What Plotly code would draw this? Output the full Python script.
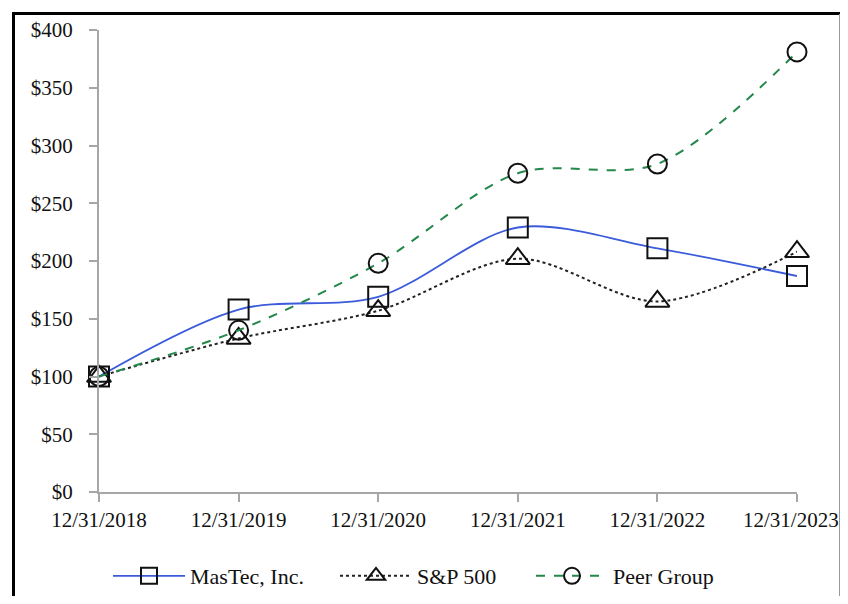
import plotly.graph_objects as go

dates = ["12/31/2018", "12/31/2019", "12/31/2020", "12/31/2021", "12/31/2022", "12/31/2023"]
mastec = [100, 158, 169, 229, 211, 187]
sp500 = [100, 133, 157, 202, 165, 208]
peer = [100, 140, 198, 276, 284, 381]
y_ticks = [0, 50, 100, 150, 200, 250, 300, 350, 400]
y_labels = ["$" + str(v) for v in y_ticks]

FONT = "Liberation Serif"

# page has an 8px body margin; figure coordinates = page coordinates - 8
OFF = 8
W, H = 832, 588
L = 99 - OFF
T = 30 - OFF
R = W - (797 - OFF)
B = H - (492 - OFF)
pw, ph = W - L - R, H - T - B

def px_x(p):
    return (p - OFF - L) / pw

def px_y(p):
    return (H - B - (p - OFF)) / ph

fig = go.Figure()
fig.add_trace(go.Scatter(
    x=dates, y=mastec, name="MasTec, Inc.", mode="lines+markers", legend="legend",
    line=dict(color="#3B5BDB", width=1.8, shape="spline", smoothing=0.9),
    marker=dict(symbol="square-open", size=20, color="#111111", line=dict(width=2)),
))
fig.add_trace(go.Scatter(
    x=dates, y=sp500, name="S&P 500", mode="lines+markers", legend="legend2",
    line=dict(color="#222222", width=2, dash="dot", shape="spline", smoothing=0.9),
    marker=dict(symbol="triangle-up-open", size=21, color="#111111", line=dict(width=2)),
))
fig.add_trace(go.Scatter(
    x=dates, y=peer, name="Peer Group", mode="lines+markers", legend="legend3",
    line=dict(color="#23884A", width=2, dash="dash", shape="spline", smoothing=0.9),
    marker=dict(symbol="circle-open", size=19, color="#111111", line=dict(width=2)),
))

def leg(xpix):
    return dict(orientation="h", x=px_x(xpix), y=px_y(576), xanchor="left", yanchor="middle",
                itemwidth=72, font=dict(family=FONT, size=22), bgcolor="rgba(0,0,0,0)",
                borderwidth=0)

# last tick label drawn as an annotation so it stays inside the visible page
tick_text = dates[:-1] + [""]

fig.update_layout(
    width=W, height=H,
    margin=dict(l=L, r=R, t=T, b=B, autoexpand=False),
    paper_bgcolor="white", plot_bgcolor="white",
    font=dict(family=FONT, size=21, color="#111111"),
    showlegend=True,
    legend=leg(108),
    legend2=leg(335),
    legend3=leg(531),
    xaxis=dict(type="category", range=[0, 5], showgrid=False, showline=True, automargin=False,
               tickmode="array", tickvals=dates, ticktext=tick_text,
               linecolor="#a6a6a6", linewidth=2, ticks="outside", ticklen=8,
               tickcolor="#a6a6a6", tickwidth=2, zeroline=False,
               tickfont=dict(family=FONT, size=21)),
    yaxis=dict(range=[0, 400], tickvals=y_ticks, ticktext=y_labels, showgrid=False, automargin=False,
               showline=True, linecolor="#a6a6a6", linewidth=2, ticks="outside",
               ticklen=8, tickcolor="#a6a6a6", tickwidth=2, zeroline=False,
               ticklabelstandoff=12, tickfont=dict(family=FONT, size=21)),
    annotations=[
        dict(text=dates[-1], xref="paper", yref="paper", x=px_x(840), y=px_y(519.5),
             xanchor="right", yanchor="middle", showarrow=False, borderpad=0,
             font=dict(family=FONT, size=21, color="#111111")),
    ],
    shapes=[
        dict(type="line", xref="paper", yref="paper", x0=px_x(12), x1=px_x(850),
             y0=px_y(13.5), y1=px_y(13.5), line=dict(color="black", width=3)),
        dict(type="line", xref="paper", yref="paper", x0=px_x(13.5), x1=px_x(13.5),
             y0=px_y(12), y1=px_y(610), line=dict(color="black", width=3)),
        dict(type="line", xref="paper", yref="paper", x0=px_x(839.5), x1=px_x(839.5),
             y0=px_y(14), y1=px_y(610), line=dict(color="#999999", width=1)),
    ],
)
fig.update_traces(cliponaxis=False)

fig.write_html("out.html")
